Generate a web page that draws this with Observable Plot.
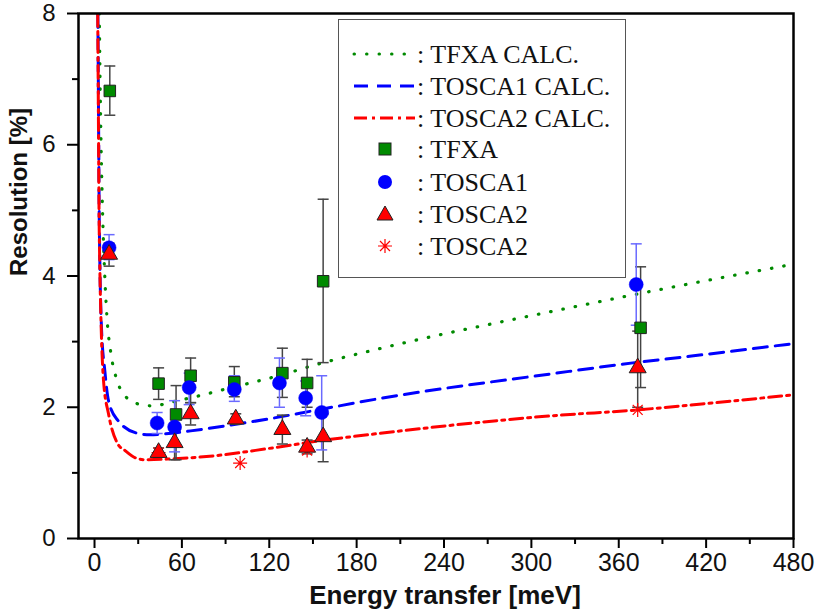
<!DOCTYPE html>
<html><head><meta charset="utf-8">
<script src="https://cdn.jsdelivr.net/npm/d3@7"></script>
<script src="https://cdn.jsdelivr.net/npm/@observablehq/plot@0.6"></script>
<style>
body{margin:0;background:#fff;}
#wrap{position:relative;width:817px;height:615px;overflow:hidden;background:#fff;}
#legend{position:absolute;left:338px;top:19px;width:288px;height:259px;box-sizing:border-box;border:1.5px solid #555;background:#fff;}
#legend svg{position:absolute;left:0;top:0;}
</style></head><body><div id="wrap"></div>
<script>
// ---- measured data (TFXA, squares) ----
const tfxaE  = [10.5, 44, 56, 66, 96, 129, 146, 157, 375];
const tfxaR  = [6.82, 2.36, 1.89, 2.48, 2.38, 2.52, 2.37, 3.92, 3.21];
const tfxaLo = [6.45, 2.12, 1.20, 2.07, 2.16, 2.15, 2.00, 2.68, 2.30];
const tfxaHi = [7.20, 2.60, 2.33, 2.75, 2.62, 2.90, 2.73, 5.17, 4.14];
// ---- TOSCA1 (circles) ----
const t1E  = [10, 43, 55, 65, 96, 127, 145, 156, 372];
const t1R  = [4.43, 1.76, 1.70, 2.30, 2.27, 2.37, 2.14, 1.92, 3.87];
const t1Lo = [4.25, 1.60, 1.32, 2.04, 2.09, 2.00, 1.87, 1.35, 3.25];
const t1Hi = [4.63, 1.92, 2.10, 2.52, 2.48, 2.75, 2.40, 2.48, 4.49];
// ---- TOSCA2 (triangles) ----
const t2E  = [10, 44, 55, 66, 97, 129, 146, 157, 373];
const t2R  = [4.33, 1.31, 1.46, 1.90, 1.82, 1.66, 1.39, 1.55, 2.60];
const t2Lo = [4.15, 1.24, 1.20, 1.73, 1.74, 1.44, 1.29, 1.17, 2.00];
const t2Hi = [4.50, 1.38, 1.72, 2.07, 1.90, 1.88, 1.50, 1.90, 3.16];
// ---- TOSCA2 (stars) ----
const t2sE = [44, 100, 146, 373];
const t2sR = [1.31, 1.15, 1.34, 1.96];
// ---- calculated curves ----
const tfxaCalcE = [3.3, 3.8, 4.5, 5.5, 6.9, 8.7, 11, 15.6, 20, 30, 41, 51, 71, 94, 123, 154, 197, 314, 376, 480];
const tfxaCalcR = [8.0, 7.0, 6.0, 5.0, 4.08, 3.32, 2.86, 2.40, 2.20, 2.05, 2.02, 2.07, 2.17, 2.30, 2.46, 2.66, 2.90, 3.46, 3.74, 4.18];
const t1CalcE = [2.3, 2.6, 2.9, 3.2, 3.6, 4.8, 7.1, 9.6, 16, 30, 38, 51, 66, 91, 119, 151, 195, 314, 371, 410, 480];
const t1CalcR = [8.0, 7.0, 6.0, 5.0, 4.3, 3.2, 2.55, 2.10, 1.80, 1.60, 1.58, 1.60, 1.64, 1.72, 1.82, 1.95, 2.13, 2.51, 2.68, 2.78, 2.97];
const t2CalcE = [2.2, 2.5, 2.8, 3.1, 3.6, 4.6, 6.2, 9.6, 16, 21, 28, 35, 50, 82, 119, 155, 195, 314, 373, 417, 480];
const t2CalcR = [8.0, 7.0, 6.0, 5.0, 4.2, 3.2, 2.4, 1.90, 1.44, 1.34, 1.23, 1.20, 1.21, 1.26, 1.37, 1.49, 1.60, 1.87, 1.96, 2.05, 2.19];
// ---- ticks & labels ----
const xMajor = [0, 60, 120, 180, 240, 300, 360, 420, 480];
const xMinor = [30, 90, 150, 210, 270, 330, 390, 450];
const yMajor = [0, 2, 4, 6, 8];
const yMinor = [1, 3, 5, 7];
const xTitle = "Energy transfer [meV]";
const yTitle = "Resolution [%]";
const legendLabels = [": TFXA CALC.", ": TOSCA1 CALC.", ": TOSCA2 CALC.", ": TFXA", ": TOSCA1", ": TOSCA2", ": TOSCA2"];

const zip = (E, R, Lo, Hi) => E.map((e, i) => ({e, r: R[i], lo: Lo ? Lo[i] : null, hi: Hi ? Hi[i] : null}));
const tfxa = zip(tfxaE, tfxaR, tfxaLo, tfxaHi);
const t1 = zip(t1E, t1R, t1Lo, t1Hi);
const t2 = zip(t2E, t2R, t2Lo, t2Hi);
const t2s = zip(t2sE, t2sR);
const cTfxa = zip(tfxaCalcE, tfxaCalcR);
const cT1 = zip(t1CalcE, t1CalcR);
const cT2 = zip(t2CalcE, t2CalcR);

const cap = {draw(ctx, size) { const r = Math.sqrt(size / Math.PI); ctx.moveTo(-r, 0); ctx.lineTo(r, 0); }};
const star = {draw(ctx, size) {
  const r = Math.sqrt(size / Math.PI), d = r * 0.7071;
  ctx.moveTo(-r, 0); ctx.lineTo(r, 0); ctx.moveTo(0, -r); ctx.lineTo(0, r);
  ctx.moveTo(-d, -d); ctx.lineTo(d, d); ctx.moveTo(-d, d); ctx.lineTo(d, -d);
}};

const GREEN = "#008a00", BLUE = "#0000ff", RED = "#ff0000", EBK = "#444", EBB = "#6a6aff";
const sans = "'Liberation Sans', Arial, Helvetica, sans-serif";

function errMarks(data, color) {
  return [
    Plot.ruleX(data, {x: "e", y1: "lo", y2: "hi", stroke: color, strokeWidth: 1.5}),
    Plot.dot(data, {x: "e", y: "lo", symbol: cap, r: 5.5, stroke: color, strokeWidth: 1.5, fill: "none"}),
    Plot.dot(data, {x: "e", y: "hi", symbol: cap, r: 5.5, stroke: color, strokeWidth: 1.5, fill: "none"})
  ];
}

const chart = Plot.plot({
  width: 817, height: 615,
  marginLeft: 78, marginRight: 24, marginTop: 13, marginBottom: 77,
  style: {fontFamily: sans, background: "white", overflow: "visible"},
  x: {domain: [-11, 480], axis: null},
  y: {domain: [0, 8], axis: null},
  marks: [
    Plot.line(cTfxa, {x: "e", y: "r", stroke: GREEN, strokeWidth: 3.2, strokeDasharray: "0.5,12", strokeLinecap: "round", curve: "monotone-x", clip: true}),
    Plot.line(cT1, {x: "e", y: "r", stroke: BLUE, strokeWidth: 3, strokeDasharray: "14,8", curve: "monotone-x", clip: true}),
    Plot.line(cT2, {x: "e", y: "r", stroke: RED, strokeWidth: 3, strokeDasharray: "13,5,3,5", curve: "monotone-x", clip: true}),
    ...errMarks(tfxa, EBK),
    ...errMarks(t2, EBK),
    ...errMarks(t1, EBB),
    Plot.dot(t2s, {x: "e", y: "r", symbol: star, r: 7, stroke: RED, strokeWidth: 1.2, fill: "none"}),
    Plot.dot(tfxa, {x: "e", y: "r", symbol: "square", r: 6.5, fill: GREEN, stroke: "#222", strokeWidth: 1}),
    Plot.dot(t1, {x: "e", y: "r", symbol: "circle", r: 7, fill: BLUE, stroke: BLUE, strokeWidth: 0.5}),
    Plot.dot(t2, {x: "e", y: "r", symbol: "triangle", r: 6.3, fill: RED, stroke: "#222", strokeWidth: 1}),
    Plot.frame({stroke: "black", strokeWidth: 2.5}),
    Plot.axisX(xMajor, {tickSize: 10, tickPadding: 5, fontSize: 25, tickFormat: d3.format("d"), label: null, stroke: "black", strokeWidth: 2, fill: "#111", fontFamily: sans}),
    Plot.axisX(xMinor, {tickSize: 6, tickFormat: () => "", label: null, stroke: "black", strokeWidth: 2}),
    Plot.axisY(yMajor, {tickSize: 11, tickPadding: 12, fontSize: 24, tickFormat: d3.format("d"), label: null, stroke: "black", strokeWidth: 2, fill: "#111", fontFamily: sans}),
    Plot.axisY(yMinor, {tickSize: 6, tickFormat: () => "", label: null, stroke: "black", strokeWidth: 2}),
    Plot.text([yTitle], {frameAnchor: "left", dx: -59, rotate: -90, fontSize: 24, fontWeight: "bold", fill: "#111", fontFamily: sans}),
    Plot.text([xTitle], {frameAnchor: "bottom", dx: 9, dy: 65, fontSize: 26, fontWeight: "bold", fill: "#111", fontFamily: sans})
  ]
});
const wrap = document.getElementById("wrap");
wrap.appendChild(chart);

// ---- legend ----
const ns = "http://www.w3.org/2000/svg";
const leg = document.createElement("div");
leg.id = "legend";
const lsvg = document.createElementNS(ns, "svg");
lsvg.setAttribute("width", 288); lsvg.setAttribute("height", 259);
const rowsY = [34, 66, 98, 129, 162, 194, 226];
const lineStyles = [
  {stroke: GREEN, dash: "0.5,12", cap: "round"},
  {stroke: BLUE, dash: "14,9", cap: "butt"},
  {stroke: RED, dash: "13,5,3,5", cap: "butt"}
];
function el(name, attrs) { const e = document.createElementNS(ns, name); for (const k in attrs) e.setAttribute(k, attrs[k]); lsvg.appendChild(e); return e; }
legendLabels.forEach((lab, i) => {
  const y = rowsY[i];
  if (i < 3) {
    const s = lineStyles[i];
    el("line", {x1: 15, x2: 76, y1: y, y2: y, stroke: s.stroke, "stroke-width": 3, "stroke-dasharray": s.dash, "stroke-linecap": s.cap});
  } else if (i === 3) {
    el("rect", {x: 40, y: y - 6, width: 12, height: 12, fill: GREEN, stroke: "#222", "stroke-width": 1});
  } else if (i === 4) {
    el("circle", {cx: 46, cy: y, r: 7, fill: BLUE});
  } else if (i === 5) {
    el("path", {d: `M46,${y - 8}L54,${y + 6}L38,${y + 6}Z`, fill: RED, stroke: "#222", "stroke-width": 1});
  } else {
    const r = 7, d = 5;
    el("path", {d: `M${46 - r},${y}H${46 + r}M46,${y - r}V${y + r}M${46 - d},${y - d}L${46 + d},${y + d}M${46 - d},${y + d}L${46 + d},${y - d}`, stroke: RED, "stroke-width": 1.2, fill: "none"});
  }
  const t = el("text", {x: 78, y: y, "dominant-baseline": "central", "font-family": "'Liberation Serif', 'Times New Roman', serif", "font-size": 26, fill: "#111"});
  t.textContent = lab;
});
leg.appendChild(lsvg);
wrap.appendChild(leg);
</script></body></html>
